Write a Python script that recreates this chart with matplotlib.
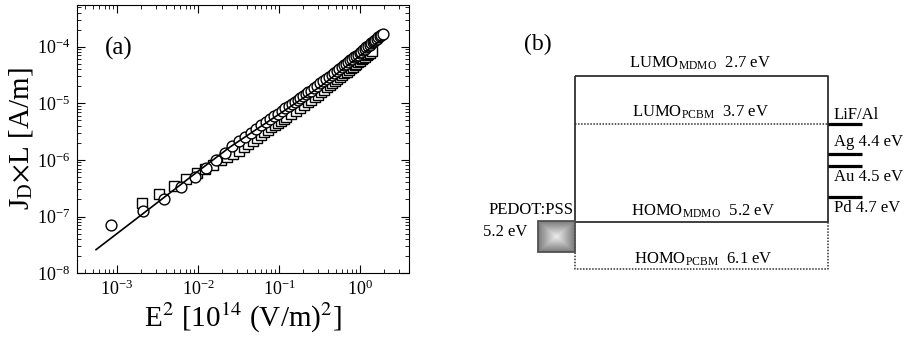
import numpy as np
import matplotlib
matplotlib.use("Agg")
from matplotlib import pyplot as plt
from matplotlib.ticker import LogLocator, NullFormatter
from matplotlib.patches import Rectangle

plt.rcParams['font.family'] = ['Liberation Serif', 'DejaVu Serif']
plt.rcParams['mathtext.fontset'] = 'stix'

# ---- panel (a): J_D*L vs E^2, two devices + model line ----
circ_x = [8.41e-4, 2.12e-3, 3.84e-3, 6.24e-3, 9.22e-3, 1.25e-2, 1.66e-2, 2.13e-2,
          2.62e-2, 3.20e-2, 3.84e-2, 4.49e-2, 5.24e-2, 6.05e-2, 6.86e-2, 7.78e-2,
          8.76e-2, 9.73e-2, 0.108, 0.120, 0.131, 0.144, 0.157, 0.170, 0.184,
          0.199, 0.213, 0.229, 0.246, 0.270, 0.297, 0.325, 0.354, 0.384, 0.416,
          0.449, 0.483, 0.518, 0.555, 0.593, 0.632, 0.672, 0.714, 0.757, 0.801,
          0.846, 0.893, 0.941, 0.990, 1.040, 1.092, 1.145, 1.199, 1.254, 1.311,
          1.369, 1.428, 1.488, 1.550, 1.613, 1.677, 1.742, 1.809, 1.899]
circ_y = [7.0e-8, 1.25e-7, 2.07e-7, 3.27e-7, 4.9e-7, 7.05e-7, 1.0e-6, 1.35e-6,
          1.73e-6, 2.15e-6, 2.58e-6, 3.02e-6, 3.53e-6, 4.07e-6, 4.63e-6, 5.25e-6,
          5.92e-6, 6.58e-6, 7.31e-6, 8.09e-6, 8.85e-6, 9.7e-6, 1.06e-5, 1.15e-5, 1.24e-5,
          1.35e-5, 1.44e-5, 1.55e-5, 1.66e-5, 1.83e-5, 2.03e-5, 2.24e-5, 2.47e-5, 2.70e-5, 2.94e-5,
          3.20e-5, 3.47e-5, 3.75e-5, 4.04e-5, 4.35e-5, 4.67e-5, 5.0e-5, 5.33e-5, 5.69e-5, 6.05e-5,
          6.44e-5, 6.82e-5, 7.23e-5, 7.66e-5, 8.15e-5, 8.63e-5, 9.14e-5, 9.68e-5, 1.02e-4, 1.08e-4,
          1.14e-4, 1.20e-4, 1.26e-4, 1.32e-4, 1.39e-4, 1.45e-4, 1.52e-4, 1.59e-4, 1.69e-4]

sq_x = [2.03e-3, 3.31e-3, 5.06e-3, 7.11e-3, 9.60e-3, 1.23e-2, 1.54e-2, 1.90e-2,
        2.28e-2, 2.69e-2, 3.17e-2, 3.65e-2, 4.16e-2, 4.71e-2, 5.34e-2, 5.95e-2,
        6.60e-2, 7.34e-2, 8.07e-2, 8.82e-2, 9.67e-2, 0.105, 0.114, 0.123, 0.141,
        0.160, 0.181, 0.203, 0.226, 0.250, 0.276, 0.303, 0.331, 0.360, 0.391,
        0.423, 0.456, 0.490, 0.526, 0.563, 0.601, 0.640, 0.681, 0.723, 0.766,
        0.810, 0.856, 0.903, 0.951, 1.000, 1.051, 1.103, 1.156, 1.210, 1.266,
        1.323, 1.392]
sq_y = [1.74e-7, 2.54e-7, 3.52e-7, 4.57e-7, 5.77e-7, 6.98e-7, 8.28e-7, 9.77e-7,
        1.12e-6, 1.27e-6, 1.45e-6, 1.67e-6, 1.91e-6, 2.17e-6, 2.47e-6, 2.76e-6,
        3.07e-6, 3.41e-6, 3.76e-6, 4.12e-6, 4.53e-6, 4.91e-6, 5.30e-6, 5.71e-6, 6.53e-6,
        7.41e-6, 8.35e-6, 9.33e-6, 1.04e-5, 1.15e-5, 1.27e-5, 1.42e-5, 1.57e-5, 1.73e-5, 1.91e-5,
        2.08e-5, 2.28e-5, 2.47e-5, 2.69e-5, 2.90e-5, 3.13e-5, 3.37e-5, 3.62e-5, 3.88e-5, 4.15e-5,
        4.43e-5, 4.72e-5, 5.01e-5, 5.33e-5, 5.62e-5, 5.96e-5, 6.31e-5, 6.67e-5, 7.05e-5, 7.41e-5,
        7.82e-5, 8.32e-5]

fit_x = [5.5e-4, 2e-3, 1e-2, 2.5e-2, 0.1, 0.32, 1.0, 1.8]
fit_y = [2.6e-8, 1.07e-7, 6.3e-7, 1.7e-6, 6.4e-6, 1.95e-5, 6.9e-5, 1.3e-4]

# ---- panel (b): energy levels (eV) ----
mdmo_lumo, mdmo_homo = 2.7, 5.2
pcbm_lumo, pcbm_homo = 3.7, 6.1
pedot_wf = 5.2
metals = ['LiF/Al', 'Ag', 'Au', 'Pd']
metal_wf = [None, 4.4, 4.5, 4.7]

fig = plt.figure(figsize=(9.09, 3.44), dpi=100)

ax = fig.add_axes([0.0847, 0.206, 0.365, 0.779])
ax.set_xscale('log')
ax.set_yscale('log')
ax.plot(sq_x, sq_y, 's', ms=6.5, mfc='white', mec='black', mew=1.0, zorder=2)
ax.plot(circ_x, circ_y, 'o', ms=7.8, mfc='white', mec='black', mew=1.0, zorder=3)
ax.plot(fit_x, fit_y, '-', color='black', lw=1.2, zorder=4)
ax.set_xlim(3.2e-4, 4.0)
ax.set_ylim(1e-8, 5.4e-4)
for a in (ax.xaxis, ax.yaxis):
    a.set_major_locator(LogLocator(base=10, numticks=12))
    a.set_minor_locator(LogLocator(base=10, subs=np.arange(2, 10), numticks=12))
    a.set_minor_formatter(NullFormatter())
ax.tick_params(which='both', direction='in', top=True, right=True, labelsize=13)
ax.tick_params(which='major', length=6, pad=5)
ax.tick_params(which='minor', length=3)
ax.set_xlabel(r'E$^2$ [10$^{14}$ (V/m)$^2$]', fontsize=21, labelpad=1)
ax.set_ylabel(r'J$_\mathregular{D}$$\times$L [A/m]', fontsize=21, labelpad=1)
ax.text(0.127, 0.84, '(a)', transform=ax.transAxes, fontsize=18, ha='center', va='center')

# right panel in pixel-like coordinates
ax2 = fig.add_axes([0.5, 0.0, 0.5, 1.0])
ax2.set_xlim(454.5, 909)
ax2.set_ylim(344, 0)
ax2.axis('off')

# layout (schematic, not to scale)
y_lvl = {mdmo_lumo: 75.7, pcbm_lumo: 124, mdmo_homo: 221.7, pcbm_homo: 269.3}
x_l, x_r = 575, 828
y_bar = [124, 154.3, 165.5, 196.7]
lc = '#303030'

# MDMO: solid box
ax2.plot([x_l, x_r, x_r, x_l, x_l],
         [y_lvl[mdmo_lumo], y_lvl[mdmo_lumo], y_lvl[mdmo_homo], y_lvl[mdmo_homo], y_lvl[mdmo_lumo]],
         color=lc, lw=1.3, solid_capstyle='butt')
# PCBM: dotted
ax2.plot([x_l, x_r], [y_lvl[pcbm_lumo]] * 2, color=lc, lw=1.1, ls=(0, (1, 1)))
ax2.plot([x_l, x_l, x_r, x_r], [y_lvl[mdmo_homo], y_lvl[pcbm_homo], y_lvl[pcbm_homo], y_lvl[mdmo_homo]],
         color=lc, lw=1.1, ls=(0, (1, 1)))

# electrodes
for yb in y_bar:
    ax2.plot([x_r, 862], [yb, yb], color='black', lw=2.3, solid_capstyle='butt')

# PEDOT:PSS gradient square
u = np.linspace(-1, 1, 60)
g = 0.93 - 0.45 * np.maximum(np.abs(u)[:, None], np.abs(u)[None, :])
ax2.imshow(g, cmap='gray', vmin=0, vmax=1, extent=(538.3, 575, 251.7, 221), aspect='auto',
           interpolation='bilinear', zorder=3)
ax2.add_patch(Rectangle((538.3, 221), 36.7, 30.7, fill=False, ec='#505050', lw=1.3, zorder=4))

fs = 12
ax2.text(538, 44, '(b)', fontsize=17, ha='center', va='center')
ax2.text(700, 63, r'LUMO$_{\mathregular{MDMO}}$  %.1f eV' % mdmo_lumo, fontsize=fs, ha='center', va='center')
ax2.text(700, 112, r'LUMO$_{\mathregular{PCBM}}$  %.1f eV' % pcbm_lumo, fontsize=fs, ha='center', va='center')
ax2.text(703, 211, r'HOMO$_{\mathregular{MDMO}}$  %.1f eV' % mdmo_homo, fontsize=fs, ha='center', va='center')
ax2.text(703, 259, r'HOMO$_{\mathregular{PCBM}}$  %.1f eV' % pcbm_homo, fontsize=fs, ha='center', va='center')

metal_text_y = [115, 142, 177, 208]
for name, wf, ty in zip(metals, metal_wf, metal_text_y):
    label = name if wf is None else '%s %.1f eV' % (name, wf)
    ax2.text(834, ty, label, fontsize=fs, ha='left', va='center')

ax2.text(574, 210, 'PEDOT:PSS', fontsize=fs, ha='right', va='center')
ax2.text(483, 232, '%.1f eV' % pedot_wf, fontsize=fs, ha='left', va='center')

fig.savefig('out.png', dpi=100)
